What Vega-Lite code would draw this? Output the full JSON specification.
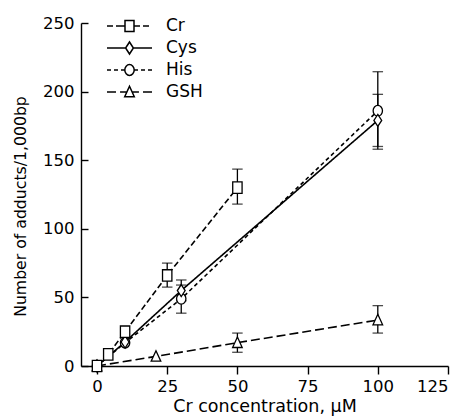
{
  "$schema": "https://vega.github.io/schema/vega-lite/v6.json",
  "width": 367,
  "height": 343,
  "autosize": {"type": "none"},
  "padding": {"left": 81, "top": 23, "right": 19, "bottom": 53},
  "background": "white",
  "config": {
    "view": {"stroke": null},
    "font": "DejaVu Sans",
    "axis": {"grid": false, "domainColor": "black", "tickColor": "black", "labelColor": "black", "titleColor": "black", "labelFont": "DejaVu Sans", "titleFont": "DejaVu Sans", "labelFontSize": 16.5, "titleFontSize": 16.5, "titleFontWeight": "normal", "domainWidth": 1.4, "tickWidth": 1.4},
    "legend": {"labelFont": "DejaVu Sans", "labelFontSize": 17, "labelColor": "black"}
  },
  "data": {
    "values": [
      {"series": "GSH", "x": 0, "y": 0, "lo": null, "hi": null},
      {"series": "GSH", "x": 21, "y": 7, "lo": null, "hi": null},
      {"series": "GSH", "x": 50, "y": 17, "lo": 10, "hi": 24},
      {"series": "GSH", "x": 100, "y": 33.5, "lo": 24, "hi": 44},
      {"series": "His", "x": 0, "y": 0, "lo": null, "hi": null},
      {"series": "His", "x": 10, "y": 17, "lo": null, "hi": null},
      {"series": "His", "x": 30, "y": 49, "lo": 38.5, "hi": 59},
      {"series": "His", "x": 100, "y": 186, "lo": 158, "hi": 214.5},
      {"series": "Cys", "x": 0, "y": 0, "lo": null, "hi": null},
      {"series": "Cys", "x": 10, "y": 17.5, "lo": null, "hi": null},
      {"series": "Cys", "x": 30, "y": 55, "lo": 47.5, "hi": 62.7},
      {"series": "Cys", "x": 100, "y": 179, "lo": 160, "hi": 198},
      {"series": "Cr", "x": 0, "y": 0, "lo": null, "hi": null},
      {"series": "Cr", "x": 4, "y": 8.5, "lo": null, "hi": null},
      {"series": "Cr", "x": 10, "y": 25, "lo": null, "hi": null},
      {"series": "Cr", "x": 25, "y": 66, "lo": 57.5, "hi": 75},
      {"series": "Cr", "x": 50, "y": 130, "lo": 118, "hi": 143.5}
    ]
  },
  "encoding": {
    "x": {"field": "x", "type": "quantitative", "scale": {"domain": [-5.7, 125], "nice": false, "zero": false},
      "axis": {"values": [0, 25, 50, 75, 100, 125], "title": "Cr concentration, μM", "tickSize": 8, "labelPadding": 4, "titlePadding": 3, "titleFontSize": 17.5}},
    "y": {"field": "y", "type": "quantitative", "scale": {"domain": [0, 250], "nice": false},
      "axis": {"values": [0, 50, 100, 150, 200, 250], "title": "Number of adducts/1,000bp", "tickSize": -7, "labelPadding": 14, "titlePadding": 14, "titleFontSize": 15.7, "titleY": 183}}
  },
  "resolve": {"scale": {"shape": "independent"}, "legend": {"shape": "independent"}},
  "layer": [
    {
      "mark": {"type": "line", "color": "black", "strokeWidth": 1.6},
      "encoding": {
        "strokeDash": {"field": "series", "type": "nominal",
          "scale": {"domain": ["Cr", "Cys", "His", "GSH"], "range": [[6, 3], [1, 0], [4, 3], [9, 4]]},
          "legend": null}
      }
    },
    {
      "transform": [{"filter": "datum.lo != null"}],
      "mark": {"type": "rule", "color": "black", "strokeWidth": 1.3},
      "encoding": {"y": {"field": "lo", "type": "quantitative"}, "y2": {"field": "hi"}}
    },
    {
      "transform": [{"filter": "datum.lo != null"}],
      "mark": {"type": "tick", "orient": "horizontal", "color": "black", "size": 10.5, "thickness": 1.3},
      "encoding": {"y": {"field": "lo", "type": "quantitative"}}
    },
    {
      "transform": [{"filter": "datum.lo != null"}],
      "mark": {"type": "tick", "orient": "horizontal", "color": "black", "size": 10.5, "thickness": 1.3},
      "encoding": {"y": {"field": "hi", "type": "quantitative"}}
    },
    {
      "mark": {"type": "point", "filled": true, "fill": "white", "stroke": "black", "strokeWidth": 1.3, "size": 144, "opacity": 1},
      "encoding": {
        "shape": {"field": "series", "type": "nominal",
          "scale": {"domain": ["Cr", "Cys", "His", "GSH"], "range": ["M-0.78,-0.95H0.78V0.95H-0.78Z", "M0,-1L0.65,0L0,1L-0.65,0Z", "M0,-0.9A0.78,0.9 0 1,1 0,0.9A0.78,0.9 0 1,1 0,-0.9Z", "M0,-0.95L0.8,0.8L-0.8,0.8Z"]},
          "legend": null}
      }
    },
    {
      "transform": [{"filter": "false"}],
      "mark": {"type": "point", "filled": false, "color": "black", "strokeWidth": 1.5, "opacity": 1},
      "encoding": {
        "shape": {"field": "series", "type": "nominal",
          "scale": {"domain": ["Cr", "Cys", "His", "GSH"], "range": [
            "M-1,0H-0.733M-0.6,0H-0.2M-0.2,-0.244H0.2V0.244H-0.2ZM0.2,0H0.467M0.6,0H0.867",
            "M-1,0H-0.173M0,-0.267L0.173,0L0,0.267L-0.173,0ZM0.173,0H1",
            "M-1,0H-0.822M-0.689,0H-0.511M-0.378,0H-0.209M0,-0.24A0.209,0.24 0 1,1 0,0.24A0.209,0.24 0 1,1 0,-0.24ZM0.209,0H0.378M0.511,0H0.689M0.822,0H1",
            "M-1,0H-0.6M-0.42,0H-0.12M0,-0.253L0.213,0.213L-0.213,0.213ZM0.12,0H0.42M0.6,0H1"]},
          "legend": {"orient": "none", "legendX": 25, "legendY": -8, "title": null, "symbolSize": 2025, "labelOffset": 13, "clipHeight": 22, "rowPadding": 0, "padding": 0,
            "symbolStrokeColor": "black", "symbolStrokeWidth": 1.5, "symbolOpacity": 1}}
      }
    }
  ]
}
